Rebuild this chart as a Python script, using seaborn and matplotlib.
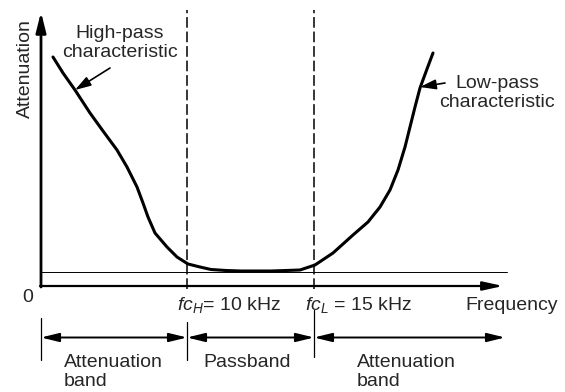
import matplotlib
matplotlib.use("Agg")
import matplotlib.pyplot as plt
import seaborn as sns
import pandas as pd

sns.set_theme(style="white")
plt.rcParams["font.family"] = ["Liberation Sans", "DejaVu Sans"]
plt.rcParams["mathtext.fontset"] = "custom"
plt.rcParams["mathtext.rm"] = "Liberation Sans"
plt.rcParams["mathtext.it"] = "Liberation Sans:italic"

# Schematic attenuation curve (arbitrary units: frequency axis / attenuation axis)
freq = [12, 22, 34, 49, 62, 76, 86, 96, 102, 107, 114, 126, 136, 147, 159,
        170, 185, 200, 215, 230, 245, 259, 274, 292, 312, 327, 339, 349, 357,
        364, 369, 374, 379, 386, 392]
atten = [229, 213, 196, 173, 155, 136, 119, 99, 83, 69, 53, 39, 29, 22, 19,
         16.5, 15.5, 15, 15, 15, 15.5, 16, 21, 33, 51, 64, 79, 96, 116,
         139, 159, 179, 198, 217, 233]

fc_h = 146        # position of high-pass cutoff on the frequency axis
fc_l = 273        # position of low-pass cutoff
x_end = 462       # end of frequency axis
y_end = 274       # top of attenuation axis
ref_level = 14    # reference attenuation level

curve = pd.DataFrame({"Frequency": freq, "Attenuation": atten})

fig = plt.figure(figsize=(5.65, 3.92), dpi=100)
ax = fig.add_axes([0, 0, 1, 1])

k = "black"
arrow_kw = dict(color=k, shrinkA=0, shrinkB=0)

# Attenuation (y) axis and frequency (x) axis with arrowheads
ax.annotate("", xy=(0, y_end), xytext=(0, -1),
            arrowprops=dict(arrowstyle="-|>,head_length=1.0,head_width=0.25", lw=2.0, **arrow_kw))
ax.annotate("", xy=(x_end, 0), xytext=(-1, 0),
            arrowprops=dict(arrowstyle="-|>,head_length=1.0,head_width=0.22", lw=1.6, **arrow_kw))

# Thin reference level line
ax.plot([0, x_end + 4], [ref_level, ref_level], color=k, lw=0.7)

# Cutoff frequency markers
for xc in (fc_h, fc_l):
    ax.plot([xc, xc], [-3, 276], color=k, lw=1.1, linestyle=(0, (7, 2.5)))

# Attenuation characteristic
sns.lineplot(data=curve, x="Frequency", y="Attenuation", ax=ax, color=k, lw=2.2,
             sort=False, estimator=None)
ax.lines[-1].set_solid_capstyle("round")
ax.lines[-1].set_solid_joinstyle("round")
ax.set_xlim(-41, 524)
ax.set_ylim(-106, 286)
ax.axis("off")

fs = 14
ax.text(-16, 217, "Attenuation", rotation=90, ha="center", va="center", fontsize=fs)
ax.text(-13, -16, "0", ha="center", va="baseline", fontsize=fs)
ax.text(424, -24, "Frequency", ha="left", va="baseline", fontsize=fs)
ax.text(136, -24, r"$fc_H$= 10 kHz", ha="left", va="baseline", fontsize=fs)
ax.text(264, -24, r"$fc_L$ = 15 kHz", ha="left", va="baseline", fontsize=fs)

# Characteristic labels with pointer arrows
ax.text(79, 243, "High-pass\ncharacteristic", ha="center", va="center",
        fontsize=fs, linespacing=1.15)
ax.annotate("", xy=(34, 196), xytext=(69, 218),
            arrowprops=dict(arrowstyle="-|>,head_length=0.8,head_width=0.25", lw=1.2, **arrow_kw))
ax.text(456, 193, "Low-pass\ncharacteristic", ha="center", va="center",
        fontsize=fs, linespacing=1.15)
ax.annotate("", xy=(379, 199), xytext=(404, 203),
            arrowprops=dict(arrowstyle="-|>,head_length=0.8,head_width=0.25", lw=1.2, **arrow_kw))

# Band extents below the frequency axis
band_y = -51.5
for xb, y0, y1 in ((0, -32, -74), (fc_h, -36, -74), (fc_l, -24, -71)):
    ax.plot([xb, xb], [y0, y1], color=k, lw=0.9)
for xa, xb in ((0, fc_h), (fc_h, fc_l), (fc_l, x_end + 2)):
    ax.annotate("", xy=(xb, band_y), xytext=(xa, band_y),
                arrowprops=dict(arrowstyle="<|-|>,head_length=0.9,head_width=0.22", lw=1.4, **arrow_kw))

ax.text(23, -100, "Attenuation\nband", ha="left", va="baseline", fontsize=fs, linespacing=1.15)
ax.text(162, -81, "Passband", ha="left", va="baseline", fontsize=fs)
ax.text(316, -100, "Attenuation\nband", ha="left", va="baseline", fontsize=fs, linespacing=1.15)

fig.savefig("out.png", dpi=100, facecolor="white")
